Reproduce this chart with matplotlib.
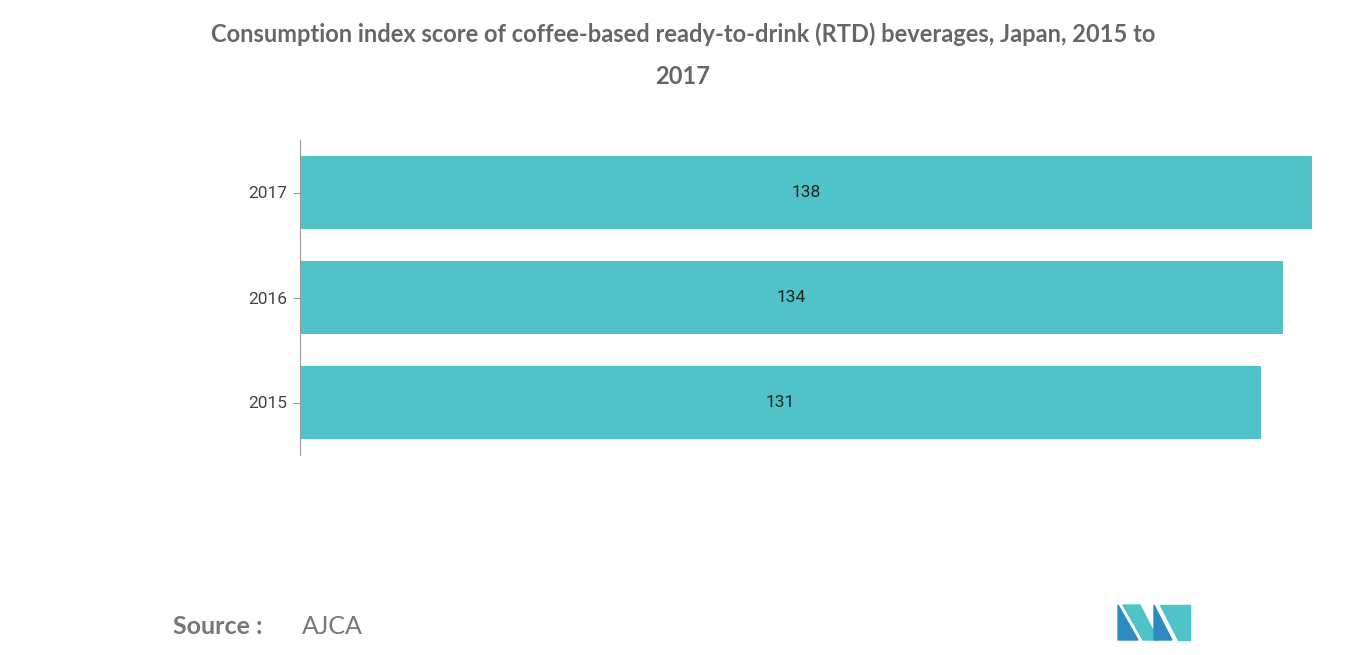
import matplotlib
matplotlib.use("Agg")
import matplotlib.pyplot as plt
from matplotlib.patches import Polygon

years = ["2015", "2016", "2017"]
scores = [131, 134, 138]

BAR_COLOR = "#50C3C9"
W, H = 1366, 655

fig = plt.figure(figsize=(W / 100, H / 100), dpi=100)
ax = fig.add_axes([300 / W, 1 - 455 / H, 1012 / W, 315 / H])

ypos = list(range(len(years)))
ax.barh(ypos, scores, height=0.7, color=BAR_COLOR)
for y, v in zip(ypos, scores):
    ax.text(v / 2, y, str(v), ha="center", va="center", fontsize=12.5,
            color="#222222", family="Roboto")

ax.set_xlim(0, 138)
ax.set_ylim(-0.5, 2.5)
ax.set_yticks(ypos)
ax.set_yticklabels(years, fontsize=12.5, color="#444444", family="Roboto")
ax.tick_params(axis="y", length=5, color="#999999", pad=4)
ax.set_xticks([])
for s in ["top", "right", "bottom"]:
    ax.spines[s].set_visible(False)
ax.spines["left"].set_color("#999999")

fig.text(0.5, 1 - 34 / H,
         "Consumption index score of coffee-based ready-to-drink (RTD) beverages, Japan, 2015 to",
         ha="center", va="center", fontsize=17, fontweight="bold", color="#666666", family="Lato")
fig.text(0.5, 1 - 76 / H, "2017", ha="center", va="center", fontsize=17,
         fontweight="bold", color="#666666", family="Lato")

fig.text(173 / W, 1 - 627 / H, "Source :", ha="left", va="center", fontsize=18,
         fontweight="bold", color="#777777", family="Lato")
fig.text(302 / W, 1 - 627 / H, "AJCA", ha="left", va="center", fontsize=18,
         color="#777777", family="Lato")

# logo
lx, ly = 1118, 605
def px(x, y):
    return (x / W, 1 - y / H)
shapes = [
    ([(lx, ly + 35), (lx, ly), (lx + 20, ly + 35)], "#2E8BC0"),
    ([(lx + 5, ly), (lx + 22, ly), (lx + 40, ly + 35), (lx + 25, ly + 35)], "#50C3C9"),
    ([(lx + 36, ly + 35), (lx + 36, ly), (lx + 54, ly + 35)], "#2E8BC0"),
    ([(lx + 42, ly), (lx + 72, ly), (lx + 72, ly + 35), (lx + 60, ly + 35)], "#50C3C9"),
]
for pts, c in shapes:
    fig.patches.append(Polygon([px(*p) for p in pts], closed=True, color=c,
                               transform=fig.transFigure, figure=fig))

fig.savefig("out.png", dpi=100)
